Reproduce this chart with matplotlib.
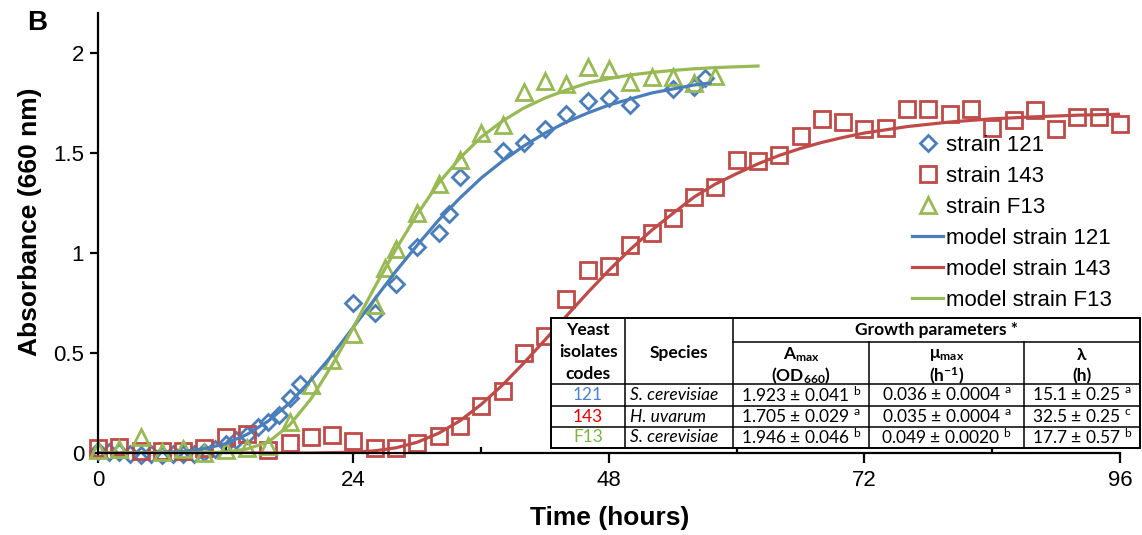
import matplotlib
matplotlib.use("Agg")
import matplotlib.pyplot as plt
from matplotlib.patches import Rectangle
from matplotlib.ticker import MultipleLocator

plt.rcParams["font.family"] = ["Liberation Sans", "DejaVu Sans"]
plt.rcParams["mathtext.fontset"] = "custom"
plt.rcParams["mathtext.rm"] = "Lato"
plt.rcParams["mathtext.bf"] = "Lato:bold"
plt.rcParams["mathtext.it"] = "Lato:italic"
plt.rcParams["mathtext.fallback"] = "stixsans"

t121 = [0, 1, 2, 3, 4, 5, 6, 7, 8, 9, 10, 11, 12, 13, 14, 15, 16, 17, 18, 19,
        24, 26, 28, 30, 32, 33, 34, 38, 40, 42, 44, 46, 48, 50, 54, 56, 57]
a121 = [0.01, 0.005, 0.005, -0.005, -0.01, -0.005, -0.01, -0.005, -0.005, -0.005,
        0.005, 0.02, 0.045, 0.065, 0.09, 0.13, 0.155, 0.19, 0.275, 0.345,
        0.75, 0.70, 0.845, 1.03, 1.10, 1.195, 1.38, 1.51, 1.55, 1.62, 1.695,
        1.76, 1.775, 1.74, 1.82, 1.83, 1.875]

t143 = [0, 2, 4, 6, 8, 10, 12, 14, 16, 18, 20, 22, 24, 26, 28, 30, 32, 34, 36,
        38, 40, 42, 44, 46, 48, 50, 52, 54, 56, 58, 60, 62, 64, 66, 68, 70, 72,
        74, 76, 78, 80, 82, 84, 86, 88, 90, 92, 94, 96]
a143 = [0.025, 0.03, 0.01, 0.01, 0.01, 0.025, 0.08, 0.095, 0.015, 0.05, 0.08,
        0.09, 0.06, 0.025, 0.025, 0.05, 0.085, 0.135, 0.235, 0.31, 0.50, 0.585,
        0.77, 0.915, 0.935, 1.04, 1.10, 1.175, 1.28, 1.33, 1.465, 1.46, 1.49,
        1.585, 1.67, 1.655, 1.62, 1.625, 1.72, 1.72, 1.695, 1.72, 1.625, 1.665,
        1.715, 1.62, 1.68, 1.68, 1.645]

tF13 = [0, 2, 4, 6, 8, 10, 12, 14, 16, 18, 20, 22, 24, 26, 27, 28, 30, 32, 34,
        36, 38, 40, 42, 44, 46, 48, 50, 52, 54, 56, 58]
aF13 = [0.015, 0.02, 0.08, 0.005, 0.02, 0.0, 0.015, 0.025, 0.035, 0.155, 0.34,
        0.465, 0.595, 0.74, 0.925, 1.02, 1.2, 1.345, 1.465, 1.6, 1.64, 1.805,
        1.86, 1.845, 1.93, 1.92, 1.855, 1.88, 1.88, 1.85, 1.885]

# ---- model curves ----
tm121 = [0, 4, 8, 10, 12, 14, 16, 18, 20, 22, 24, 26, 28, 30, 32, 34, 36, 38,
         40, 42, 44, 46, 48, 50, 52, 54, 56, 57.5]
m121 = [0, 0, 0.008, 0.021, 0.047, 0.093, 0.16, 0.25, 0.365, 0.49, 0.63, 0.77,
        0.91, 1.04, 1.165, 1.275, 1.375, 1.46, 1.535, 1.60, 1.655, 1.70, 1.74,
        1.77, 1.80, 1.82, 1.84, 1.85]

tm143 = [0, 20, 24, 26, 28, 30, 32, 34, 36, 38, 40, 42, 44, 46, 48, 50, 52, 54,
         56, 58, 60, 62, 64, 66, 68, 70, 72, 76, 80, 84, 88, 92, 96]
m143 = [0, 0, 0.004, 0.011, 0.026, 0.054, 0.099, 0.161, 0.243, 0.34, 0.45,
        0.566, 0.685, 0.802, 0.914, 1.018, 1.113, 1.198, 1.28, 1.345, 1.397,
        1.446, 1.488, 1.523, 1.553, 1.578, 1.60, 1.632, 1.655, 1.671, 1.681,
        1.689, 1.694]

tmF13 = [0, 8, 10, 12, 14, 16, 18, 20, 22, 24, 26, 28, 30, 32, 34, 36, 38, 40,
         42, 44, 46, 48, 50, 52, 54, 56, 58, 60, 62]
mF13 = [0, 0, 0.001, 0.005, 0.02, 0.055, 0.14, 0.27, 0.44, 0.63, 0.83, 1.02,
        1.195, 1.35, 1.475, 1.58, 1.66, 1.725, 1.775, 1.815, 1.85, 1.872, 1.89,
        1.903, 1.913, 1.921, 1.927, 1.931, 1.935]

# ---- inset table ----
codes = ["121", "143", "F13"]
species = ["S. cerevisiae", "H. uvarum", "S. cerevisiae"]
amax = ["1.923 ± 0.041", "1.705 ± 0.029", "1.946 ± 0.046"]
amax_grp = ["b", "a", "b"]
mumax = ["0.036 ± 0.0004", "0.035 ± 0.0004", "0.049 ± 0.0020"]
mumax_grp = ["a", "a", "b"]
lag = ["15.1 ± 0.25", "32.5 ± 0.25", "17.7 ± 0.57"]
lag_grp = ["a", "c", "b"]

BLUE, RED, GREEN = "#4a7ebb", "#be4b48", "#98b954"
CODE_COLORS = ["#4f81d0", "#e00000", "#7cb342"]

W, H = 1142, 535
fig = plt.figure(figsize=(W / 100, H / 100), dpi=100)
ax = fig.add_axes([98 / W, 82 / H, 1022 / W, 440 / H])

mk = dict(ls="none", mfc="none", mew=2.0, clip_on=False)
ax.plot(t121, a121, marker="D", ms=8.5, mec=BLUE, label="strain 121", **mk)
ax.plot(t143, a143, marker="s", ms=11.5, mec=RED, label="strain 143", **mk)
ax.plot(tF13, aF13, marker="^", ms=11.5, mec=GREEN, label="strain F13", **mk)
ax.plot(tm121, m121, color=BLUE, lw=2.3, label="model strain 121")
ax.plot(tm143, m143, color=RED, lw=2.3, label="model strain 143")
ax.plot(tmF13, mF13, color=GREEN, lw=2.3, label="model strain F13")

ax.set_xlim(0, 96)
ax.set_ylim(0, 2.2)
ax.set_xticks([0, 24, 48, 72, 96])
ax.xaxis.set_minor_locator(MultipleLocator(12))
ax.set_yticks([0, 0.5, 1, 1.5, 2])
ax.set_yticklabels(["0", "0.5", "1", "1.5", "2"])
for s in ("top", "right"):
    ax.spines[s].set_visible(False)
for s in ("left", "bottom"):
    ax.spines[s].set_linewidth(1.6)
ax.tick_params(axis="x", which="major", direction="out", length=7, width=1.6,
               labelsize=16, pad=5)
ax.tick_params(axis="x", which="minor", direction="in", length=4, width=1.6)
ax.tick_params(axis="y", direction="out", length=6, width=1.6, labelsize=16, pad=4)

ax.legend(loc="upper left", bbox_to_anchor=(912 / W, 1 - 135 / H),
          bbox_transform=fig.transFigure, frameon=False, fontsize=16,
          handlelength=1.4, handletextpad=0.15, labelspacing=0.45,
          borderpad=0, borderaxespad=0)

fig.text(610 / W, 1 - 518 / H, "Time (hours)", ha="center", va="center",
         fontsize=19, fontweight="bold")
fig.text(30 / W, 1 - 222 / H, "Absorbance (660 nm)", ha="center", va="center",
         rotation=90, fontsize=19, fontweight="bold")
fig.text(37 / W, 1 - 23 / H, "B", ha="center", va="center", fontsize=20,
         fontweight="bold")

# table drawn in pixel coordinates on a transparent overlay
tab = fig.add_axes([0, 0, 1, 1], zorder=5)
tab.set_xlim(0, W)
tab.set_ylim(H, 0)
tab.axis("off")
tab.patch.set_visible(False)

cols = [551, 625, 733, 869, 1024, 1140]
rows = [318, 342, 384, 406, 427, 448]
tab.add_patch(Rectangle((cols[0], rows[0]), cols[-1] - cols[0], rows[-1] - rows[0],
                        facecolor="white", edgecolor="black", lw=1.4))
lk = dict(color="black", lw=1.1)
for x in cols[1:3]:
    tab.plot([x, x], [rows[0], rows[-1]], **lk)
for x in cols[3:5]:
    tab.plot([x, x], [rows[1], rows[-1]], **lk)
tab.plot([cols[2], cols[-1]], [rows[1], rows[1]], **lk)
for y in rows[2:5]:
    tab.plot([cols[0], cols[-1]], [y, y], **lk)

tf = dict(family="Lato", fontsize=12.5, ha="center", va="center")
hb = dict(tf, fontweight="bold")
gk = dict(hb, family=["Lato", "DejaVu Sans"])
cx = [(cols[i] + cols[i + 1]) / 2 for i in range(5)]
tab.text(cx[0], 330, "Yeast", **hb)
tab.text(cx[0], 352, "isolates", **hb)
tab.text(cx[0], 374, "codes", **hb)
tab.text(cx[1], 353, "Species", **hb)
tab.text((cols[2] + cols[-1]) / 2, 330, "Growth parameters *", **hb)
tab.text(cx[2], 355, r"A$_{\mathbf{max}}$", **hb)
tab.text(cx[2], 376, r"(OD$_{\mathbf{660}}$)", **hb)
tab.text(cx[3], 355, r"μ$_{\mathbf{max}}$", **gk)
tab.text(cx[3], 376, r"(h$^{\mathbf{-1}}$)", **hb)
tab.text(cx[4], 355, "λ", **gk)
tab.text(cx[4], 376, "(h)", **hb)

for i in range(3):
    yc = (rows[2 + i] + rows[3 + i]) / 2
    tab.text(cx[0], yc, codes[i], color=CODE_COLORS[i], **tf)
    tab.text(cols[1] + 5, yc, species[i], **dict(tf, ha="left", style="italic"))
    tab.text(cx[2], yc, amax[i] + r" $^{\mathrm{" + amax_grp[i] + "}}$", **tf)
    tab.text(cx[3], yc, mumax[i] + r" $^{\mathrm{" + mumax_grp[i] + "}}$", **tf)
    tab.text(cx[4], yc, lag[i] + r" $^{\mathrm{" + lag_grp[i] + "}}$", **tf)

fig.savefig("out.png", dpi=100)
